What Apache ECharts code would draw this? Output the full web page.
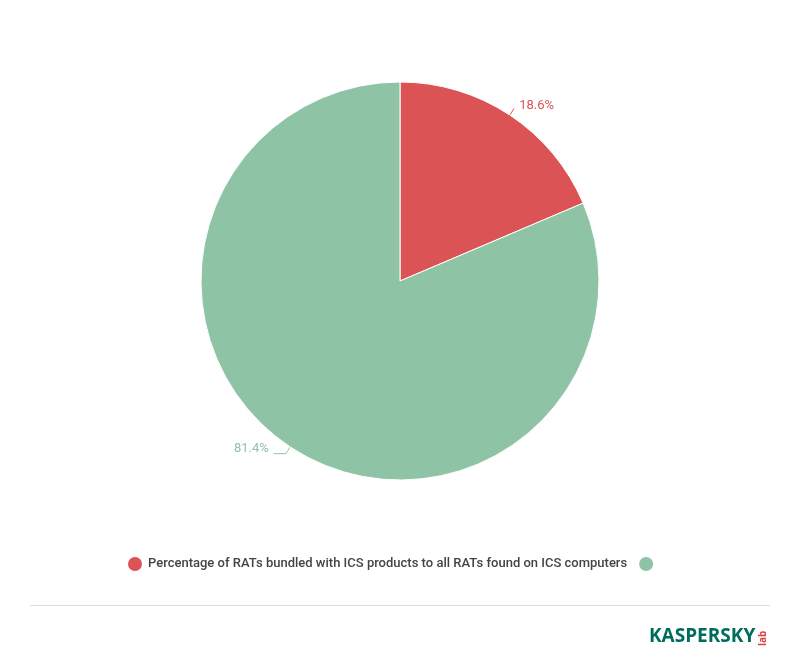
<!DOCTYPE html>
<html><head><meta charset="utf-8">
<script src="https://cdn.jsdelivr.net/npm/echarts@6/dist/echarts.min.js"></script>
<style>html,body{margin:0;padding:0;background:#fff}#c{width:800px;height:668px}</style>
</head><body><div id="c"></div>
<script>
const names = ["Percentage of RATs bundled with ICS products to all RATs found on ICS computers", "\u200b"];
const values = [18.6, 81.4];
const colors = ["#dc5355", "#8fc3a6"];
const lineLen = [8, 8];
const lineLen2 = [0, 12];
const chart = echarts.init(document.getElementById('c'));
chart.setOption({
  animation: false,
  textStyle: {fontFamily: 'Roboto'},
  legend: {
    top: 550, left: 121, itemWidth: 16, itemHeight: 16, itemGap: 10, icon: 'circle',
    textStyle: {fontSize: 13, color: '#444', fontWeight: 500, fontFamily: 'Roboto'},
    data: names
  },
  series: [{
    type: 'pie', center: [400, 281], radius: 199, startAngle: 90, clockwise: true,
    itemStyle: {borderColor: '#fff', borderWidth: 1},
    label: {formatter: '{c}%', fontSize: 13, fontFamily: 'Roboto'},
    labelLine: {lineStyle: {width: 1}},
    labelLayout: function (p) { return {dy: p.dataIndex === 0 ? -3 : -5}; },
    data: names.map((n, i) => ({name: n, value: values[i], itemStyle: {color: colors[i]},
      label: {color: colors[i]}, labelLine: {length: lineLen[i], length2: lineLen2[i], lineStyle: {color: colors[i]}}}))
  }],
  graphic: [
    {type: 'line', shape: {x1: 30, y1: 605.5, x2: 770, y2: 605.5}, style: {stroke: '#ddd', lineWidth: 1}},
    {type: 'text', x: 649, y: 626, scaleX: 0.95, style: {text: 'KASPERSKY', font: 'bold 20px "Open Sans"', fill: '#006d5c'}},
    {type: 'text', x: 758, y: 646, rotation: Math.PI/2, originX: 0, originY: 0,
      style: {text: 'lab', font: 'bold 10px "Open Sans"', fill: '#dc3b3b'}}
  ]
});
</script></body></html>
